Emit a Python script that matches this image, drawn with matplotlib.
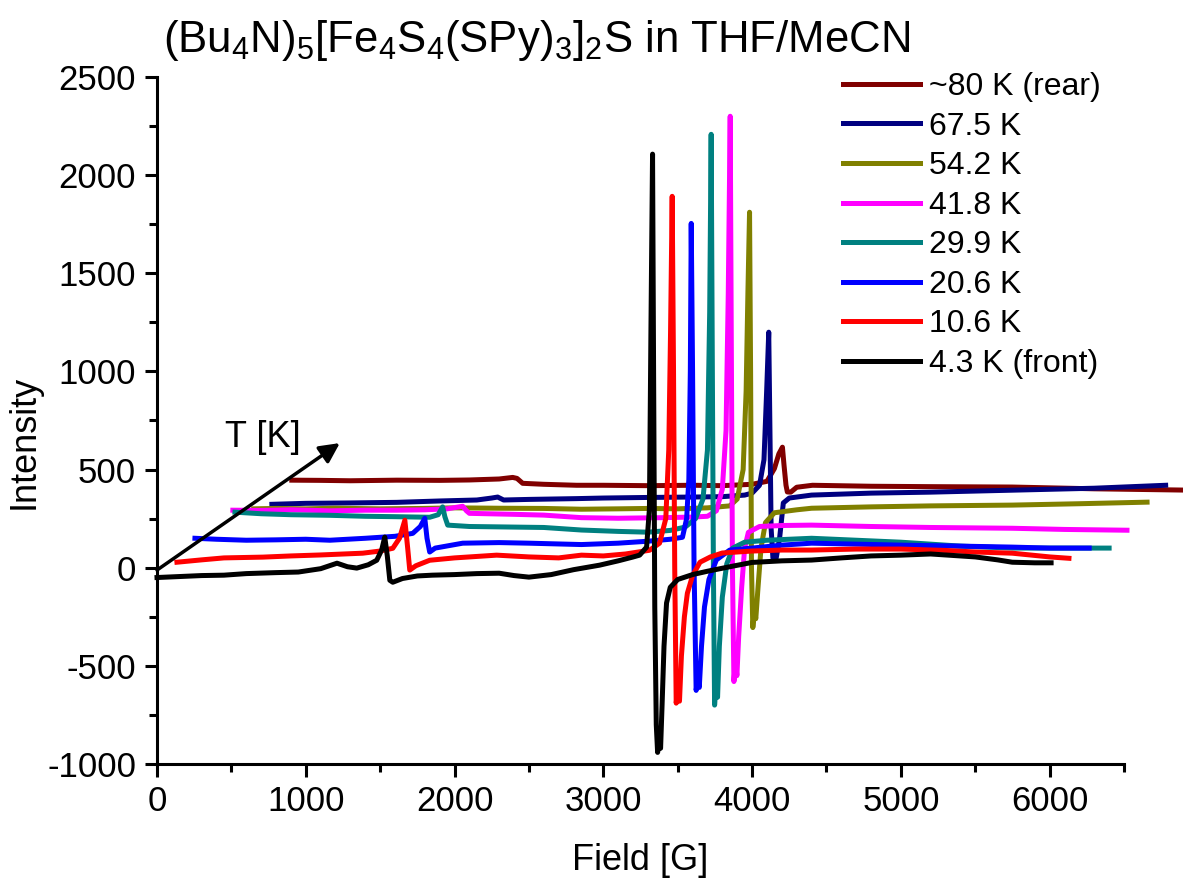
import numpy as np
import matplotlib
matplotlib.use('Agg')
import matplotlib.pyplot as plt
from matplotlib.ticker import MultipleLocator

plt.rcParams['font.family'] = ['Liberation Sans', 'DejaVu Sans']
plt.rcParams['mathtext.fontset'] = 'custom'
plt.rcParams['mathtext.rm'] = 'Liberation Sans'
plt.rcParams['mathtext.default'] = 'regular'
plt.rcParams['axes.unicode_minus'] = False

# field [G] / intensity, rear to front
field_80 = [906, 1100, 1300, 1612, 1900, 2100, 2300, 2391, 2420, 2458, 2600, 2820, 3000, 3300, 3600, 3800,
            4000, 4100, 4150, 4180, 4204, 4215, 4228, 4237, 4260, 4300, 4406, 4800, 5200, 5749, 6300, 6950]
int_80 = [446, 445, 443, 446, 445, 447, 452, 460, 455, 430, 425, 420, 420, 418, 420, 418,
          425, 440, 505, 580, 614, 520, 420, 386, 385, 410, 420, 415, 413, 411, 402, 395]

field_67 = [772, 1000, 1300, 1612, 1900, 2150, 2250, 2290, 2330, 2500, 2820, 3000, 3300, 3600, 3800, 3950,
            4000, 4050, 4080, 4098, 4112, 4120, 4128, 4140, 4160, 4185, 4210, 4250, 4400, 4800, 5200, 5749,
            6300, 6780]
int_67 = [323, 328, 330, 333, 340, 345, 355, 360, 345, 348, 352, 355, 358, 360, 362, 370,
          380, 420, 550, 900, 1200, 700, 200, 50, 40, 150, 330, 355, 370, 380, 385, 395,
          405, 420]

field_54 = [650, 800, 1000, 1200, 1500, 1786, 2000, 2300, 2600, 2853, 3100, 3300, 3500, 3700, 3850, 3900,
            3940, 3960, 3972, 3983, 3990, 3996, 4005, 4015, 4025, 4040, 4060, 4090, 4150, 4300, 4400, 4800,
            5200, 5749, 6200, 6655]
int_54 = [300, 302, 300, 303, 300, 302, 305, 303, 302, 298, 300, 302, 300, 305, 315, 350,
          500, 900, 1400, 1811, 1000, 0, -305, -220, -260, -100, 100, 230, 280, 295, 303, 310,
          315, 319, 326, 334]

field_41 = [510, 700, 900, 1162, 1400, 1612, 1800, 1950, 2030, 2055, 2080, 2100, 2400, 2600, 2853, 3100,
            3400, 3600, 3700, 3760, 3800, 3825, 3840, 3853, 3860, 3868, 3878, 3888, 3898, 3910, 3930, 3950,
            3975, 4050, 4200, 4400, 4800, 5200, 5749, 6100, 6520]
int_41 = [293, 292, 295, 290, 293, 293, 295, 300, 310, 313, 290, 277, 272, 268, 255, 252,
          255, 258, 262, 290, 400, 700, 1400, 2300, 1200, 0, -580, -480, -550, -350, -100, 100,
          180, 210, 215, 217, 210, 205, 201, 195, 191]

field_29 = [524, 700, 900, 1162, 1400, 1600, 1833, 1890, 1920, 1935, 1954, 2100, 2400, 2600, 2853, 3100,
            3300, 3450, 3550, 3620, 3670, 3700, 3715, 3725, 3733, 3740, 3748, 3758, 3768, 3780, 3800, 3830,
            3870, 3950, 4100, 4400, 4700, 5000, 5400, 5749, 6100, 6400]
int_29 = [283, 275, 270, 267, 262, 260, 257, 270, 310, 260, 217, 210, 207, 205, 192, 185,
          181, 190, 207, 250, 350, 600, 1300, 2208, 1000, 0, -700, -580, -660, -400, -150, 20,
          100, 130, 140, 150, 140, 130, 110, 100, 100, 100]

field_20 = [255, 400, 600, 800, 1000, 1162, 1400, 1600, 1719, 1770, 1800, 1815, 1833, 1870, 2055, 2300,
            2500, 2853, 3100, 3300, 3450, 3532, 3560, 3575, 3585, 3591, 3600, 3610, 3624, 3635, 3645, 3660,
            3680, 3710, 3760, 3850, 4000, 4200, 4400, 4700, 5000, 5400, 5749, 6000, 6266]
int_20 = [150, 145, 140, 142, 145, 140, 150, 160, 175, 210, 252, 150, 80, 100, 125, 128,
          125, 118, 125, 135, 145, 155, 250, 450, 1000, 1754, 1000, 0, -625, -560, -610, -400,
          -200, -60, 40, 90, 100, 115, 125, 120, 115, 110, 105, 100, 100]

field_10 = [134, 300, 450, 712, 900, 1100, 1383, 1500, 1585, 1630, 1666, 1685, 1699, 1740, 1833, 2000,
            2283, 2500, 2700, 2853, 3000, 3150, 3311, 3378, 3420, 3440, 3452, 3463, 3472, 3480, 3490, 3500,
            3512, 3525, 3545, 3565, 3600, 3650, 3720, 3800, 4000, 4200, 4400, 4700, 5000, 5300, 5500, 5749,
            6000, 6130]
int_10 = [28, 40, 50, 54, 60, 65, 74, 85, 99, 150, 242, 100, -12, 10, 38, 50,
          64, 55, 50, 64, 60, 70, 89, 125, 250, 600, 1200, 1892, 1000, 0, -690, -620,
          -680, -450, -250, -130, -40, 28, 55, 75, 85, 90, 90, 95, 95, 88, 80, 74,
          55, 48]

field_4 = [0, 150, 300, 450, 600, 800, 950, 1100, 1210, 1280, 1343, 1420, 1477, 1510, 1531, 1548,
           1565, 1585, 1650, 1750, 1850, 2000, 2150, 2300, 2400, 2500, 2650, 2800, 2975, 3100, 3197, 3244,
           3291, 3310, 3320, 3331, 3338, 3346, 3356, 3365, 3375, 3385, 3395, 3408, 3425, 3450, 3500, 3600,
           3700, 3850, 4000, 4200, 4400, 4600, 4800, 5000, 5200, 5400, 5500, 5650, 5749, 5900, 6010]
int_4 = [-50, -45, -40, -38, -30, -25, -22, -5, 23, 5, -2, 15, 38, 90, 156, 60,
         -64, -74, -55, -42, -38, -35, -30, -28, -40, -48, -35, -10, 13, 35, 54, 64,
         105, 300, 1200, 2107, 1000, -200, -800, -941, -880, -920, -700, -400, -180, -100, -60, -35,
         -18, 5, 27, 35, 39, 50, 60, 64, 70, 60, 55, 40, 28, 25, 25]

labels = ['~80 K (rear)', '67.5 K', '54.2 K', '41.8 K', '29.9 K', '20.6 K', '10.6 K', '4.3 K (front)']
colors = ['#800000', '#000080', '#808000', '#ff00ff', '#008080', '#0000ff', '#ff0000', '#000000']
fields = [field_80, field_67, field_54, field_41, field_29, field_20, field_10, field_4]
intensities = [int_80, int_67, int_54, int_41, int_29, int_20, int_10, int_4]

fig = plt.figure(figsize=(11.83, 8.90), dpi=100)
ax = fig.add_axes([157 / 1183, 126 / 890, 967 / 1183, 687 / 890])

for f, y, c, lab in zip(fields, intensities, colors, labels):
    ax.plot(f, y, color=c, lw=3.6, label=lab, clip_on=False, solid_joinstyle='round')

ax.set_xlim(0, 6500)
ax.set_ylim(-1000, 2500)
ax.xaxis.set_major_locator(MultipleLocator(1000))
ax.xaxis.set_minor_locator(MultipleLocator(500))
ax.yaxis.set_major_locator(MultipleLocator(500))
ax.yaxis.set_minor_locator(MultipleLocator(250))
for s in ['top', 'right']:
    ax.spines[s].set_visible(False)
for s in ['left', 'bottom']:
    ax.spines[s].set_linewidth(2.2)
ax.tick_params(which='major', length=9, width=2.2, labelsize=25, direction='out', pad=6)
ax.tick_params(which='minor', length=5.5, width=2.2, direction='out')

ax.set_xlabel('Field [G]', fontsize=26)
ax.set_ylabel('Intensity', fontsize=26)
ax.xaxis.set_label_coords(0.5, -0.115)
ax.yaxis.set_label_coords(-0.119, 0.469)

# temperature arrow
ax.annotate('', xy=(1229, 635), xytext=(0, -12),
            arrowprops=dict(arrowstyle='-|>', color='k', lw=2.5, mutation_scale=30,
                            shrinkA=0, shrinkB=0))
ax.text(710, 665, 'T [K]', fontsize=26, ha='center', va='center')

fig.text(537 / 1183, 0.955, r'(Bu$_4$N)$_5$[Fe$_4$S$_4$(SPy)$_3$]$_2$S in THF/MeCN',
         fontsize=31.5, ha='center', va='center')

ax.legend(loc='upper left', bbox_to_anchor=(843 / 1183, (890 - 72) / 890),
          bbox_transform=fig.transFigure, frameon=False, fontsize=23,
          handlelength=2.4, handletextpad=0.3, labelspacing=0.3, borderpad=0, borderaxespad=0)

fig.savefig('out.png', dpi=100)
